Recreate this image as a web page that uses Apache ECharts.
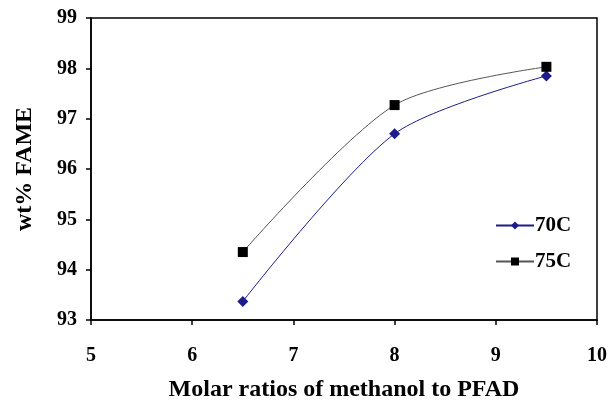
<!DOCTYPE html>
<html>
<head>
<meta charset="utf-8">
<script src="https://cdn.jsdelivr.net/npm/echarts@6/dist/echarts.min.js"></script>
<style>
  html, body { margin: 0; padding: 0; background: #fff; }
  #chart { width: 609px; height: 404px; }
</style>
</head>
<body>
<div id="chart"></div>
<script>
// Molar ratio of methanol to PFAD (x) vs FAME yield (y)
const molarRatios = [6.5, 8, 9.5];
const fame70C = [93.37, 96.70, 97.85];
const fame75C = [94.35, 97.27, 98.03];
const seriesNames = ['70C', '75C'];
const xTicks = [5, 6, 7, 8, 9, 10];
const yTicks = [93, 94, 95, 96, 97, 98, 99];

const pairs = (xs, ys) => xs.map((x, i) => [x, ys[i]]);
const font = 'Liberation Serif';

const chart = echarts.init(document.getElementById('chart'), null, { renderer: 'canvas' });
chart.setOption({
  backgroundColor: '#fff',
  animation: false,
  grid: {
    left: 91, right: 12, top: 18, bottom: 84,
    outerBoundsMode: 'none',
    containLabel: false,
    show: true, borderColor: '#000', borderWidth: 1.5
  },
  legend: {
    orient: 'vertical',
    left: 490, top: 210,
    itemWidth: 38, itemHeight: 10, itemGap: 15,
    textStyle: { fontFamily: font, fontWeight: 'bold', fontSize: 21, color: '#000', padding: [0, 0, 0, -4] },
    data: seriesNames
  },
  xAxis: {
    type: 'value',
    min: xTicks[0], max: xTicks[xTicks.length - 1], interval: 1,
    name: 'Molar ratios of methanol to PFAD',
    nameLocation: 'middle', nameGap: 58,
    nameTextStyle: { fontFamily: font, fontWeight: 'bold', fontSize: 24, color: '#000' },
    axisLine: { lineStyle: { color: '#000', width: 1.5 } },
    axisTick: { show: true, length: 5, lineStyle: { color: '#000', width: 1.5 } },
    axisLabel: { margin: 26, fontFamily: font, fontWeight: 'bold', fontSize: 20, color: '#000' },
    splitLine: { show: false }
  },
  yAxis: {
    type: 'value',
    min: yTicks[0], max: yTicks[yTicks.length - 1], interval: 1,
    name: 'wt% FAME',
    nameLocation: 'middle', nameGap: 54, nameRotate: 90,
    nameTextStyle: { fontFamily: font, fontWeight: 'bold', fontSize: 24, color: '#000' },
    axisLine: { lineStyle: { color: '#000', width: 1.5 } },
    axisTick: { show: true, length: 5, lineStyle: { color: '#000', width: 1.5 } },
    axisLabel: { margin: 14, fontFamily: font, fontWeight: 'bold', fontSize: 20, color: '#000' },
    splitLine: { show: false }
  },
  series: [
    {
      name: seriesNames[0],
      type: 'line',
      data: pairs(molarRatios, fame70C),
      smooth: 0.28,
      symbol: 'diamond', symbolSize: 11,
      itemStyle: { color: '#1c1c8a' },
      lineStyle: { color: '#1c1c8a', width: 1 }
    },
    {
      name: seriesNames[1],
      type: 'line',
      data: pairs(molarRatios, fame75C),
      smooth: 0.28,
      symbol: 'rect', symbolSize: 10,
      itemStyle: { color: '#000' },
      lineStyle: { color: '#555', width: 1 }
    }
  ]
});
</script>
</body>
</html>
